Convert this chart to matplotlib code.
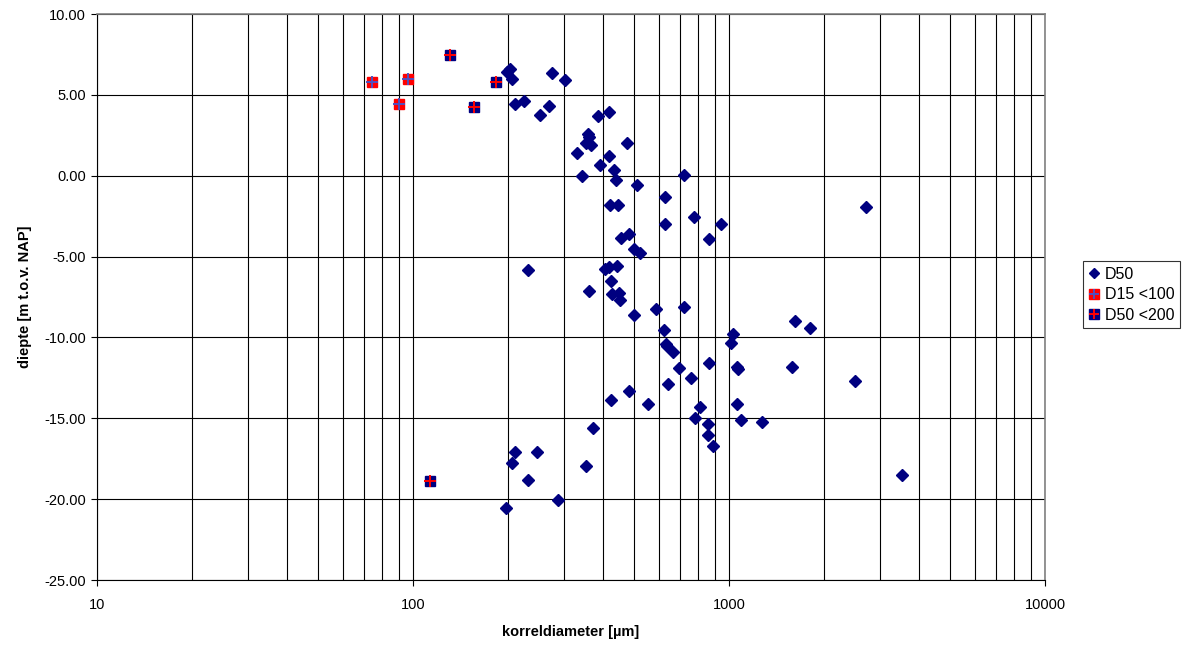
import matplotlib
matplotlib.use("Agg")
import matplotlib.pyplot as plt
from matplotlib.ticker import FixedLocator, FixedFormatter, LogLocator, NullFormatter
from matplotlib.legend_handler import HandlerTuple
from matplotlib.lines import Line2D

plt.rcParams['font.family'] = ['Liberation Sans', 'DejaVu Sans']

# D50 series (korreldiameter [µm], diepte [m t.o.v. NAP])
d50_x = [203, 199, 205, 275, 303, 211, 225, 270, 252, 384, 416, 357, 361, 353, 366,
         475, 331, 417, 390, 433, 343, 439, 510, 719, 420, 447, 626, 773, 626, 940,
         864, 456, 484, 500, 523, 232, 405, 417, 441, 424, 361, 425, 450, 453, 586,
         723, 501, 623, 1615, 1809, 1028, 1012, 630, 635, 666, 863, 1062, 1065, 1586,
         695, 756, 643, 2505, 481, 422, 554, 1058, 809, 783, 1088, 1270, 860, 370,
         861, 888, 3535, 211, 247, 205, 353, 232, 288, 197, 2708]
d50_y = [6.62, 6.44, 5.95, 6.34, 5.91, 4.42, 4.59, 4.30, 3.74, 3.72, 3.91, 2.60, 2.41,
         2.01, 1.93, 2.04, 1.43, 1.20, 0.68, 0.33, -0.04, -0.24, -0.55, 0.04, -1.83,
         -1.80, -1.34, -2.53, -3.01, -2.97, -3.91, -3.84, -3.59, -4.56, -4.81, -5.84,
         -5.76, -5.66, -5.60, -6.48, -7.12, -7.30, -7.27, -7.66, -8.27, -8.09, -8.62,
         -9.57, -8.97, -9.44, -9.81, -10.36, -10.38, -10.55, -10.93, -11.57, -11.83,
         -11.98, -11.85, -11.87, -12.52, -12.85, -12.68, -13.33, -13.85, -14.10, -14.09,
         -14.28, -14.98, -15.11, -15.20, -15.34, -15.58, -16.01, -16.73, -18.48, -17.09,
         -17.06, -17.76, -17.96, -18.81, -20.07, -20.56, -1.91]

# D15 <100 series
d15_x = [74.3, 90.1, 96.6]
d15_y = [5.77, 4.41, 5.95]

# D50 <200 series
d50s_x = [131.2, 156, 183.1, 113.2]
d50s_y = [7.46, 4.22, 5.77, -18.87]

y_ticks = [10, 5, 0, -5, -10, -15, -20, -25]
x_ticks = [10, 100, 1000, 10000]
x_tick_labels = ["10", "100", "1000", "10000"]

navy = "#000080"
red = "#FF0000"

fig = plt.figure(figsize=(11.86, 6.46), dpi=100)
ax = fig.add_axes([97/1186, 1-580/646, (1045-97)/1186, (580-14)/646])

ax.set_xscale('log')
ax.set_xlim(10, 10000)
ax.set_ylim(-25, 10)

ax.xaxis.set_major_locator(FixedLocator(x_ticks))
ax.xaxis.set_major_formatter(FixedFormatter(x_tick_labels))
ax.xaxis.set_minor_locator(LogLocator(base=10, subs=range(2, 10), numticks=20))
ax.xaxis.set_minor_formatter(NullFormatter())
ax.set_yticks(y_ticks)
ax.set_yticklabels([f"{v:.2f}" for v in y_ticks])

ax.grid(True, which='major', axis='both', color='black', linewidth=0.8)
ax.grid(True, which='minor', axis='x', color='black', linewidth=0.8)
ax.set_axisbelow(True)

ax.tick_params(axis='both', which='major', direction='out', length=4, width=0.8,
               labelsize=10.5, colors='black')
ax.tick_params(axis='x', which='minor', length=0)
ax.tick_params(axis='x', which='major', pad=9)
ax.tick_params(axis='y', pad=4)

for s in ['top', 'right']:
    ax.spines[s].set_color('#808080')
    ax.spines[s].set_linewidth(1.2)
for s in ['left', 'bottom']:
    ax.spines[s].set_color('black')
    ax.spines[s].set_linewidth(0.8)

ax.plot(d50_x, d50_y, linestyle='none', marker='D', markersize=5.7,
        markerfacecolor=navy, markeredgecolor=navy, zorder=3)

ax.plot(d15_x, d15_y, linestyle='none', marker='s', markersize=7.5,
        markerfacecolor=red, markeredgecolor=red, zorder=4)
ax.plot(d15_x, d15_y, linestyle='none', marker='+', markersize=8,
        markeredgewidth=1.4, markeredgecolor='#5050C0', zorder=5)

ax.plot(d50s_x, d50s_y, linestyle='none', marker='s', markersize=7.5,
        markerfacecolor=navy, markeredgecolor=navy, zorder=4)
ax.plot(d50s_x, d50s_y, linestyle='none', marker='+', markersize=8,
        markeredgewidth=1.4, markeredgecolor=red, zorder=5)

ax.set_xlabel("korreldiameter [µm]", fontsize=10.5, fontweight='bold', labelpad=9)
ax.set_ylabel("diepte [m t.o.v. NAP]", fontsize=10.5, fontweight='bold', labelpad=9)

h1 = Line2D([], [], linestyle='none', marker='D', markersize=5, markerfacecolor=navy, markeredgecolor=navy)
h2a = Line2D([], [], linestyle='none', marker='s', markersize=7, markerfacecolor=red, markeredgecolor=red)
h2b = Line2D([], [], linestyle='none', marker='+', markersize=7.5, markeredgewidth=1.4, markeredgecolor='#5050C0')
h3a = Line2D([], [], linestyle='none', marker='s', markersize=7, markerfacecolor=navy, markeredgecolor=navy)
h3b = Line2D([], [], linestyle='none', marker='+', markersize=7.5, markeredgewidth=1.4, markeredgecolor=red)

leg = fig.legend([h1, (h2a, h2b), (h3a, h3b)], ["D50", "D15 <100", "D50 <200"],
                 handler_map={tuple: HandlerTuple(ndivide=1, pad=0)},
                 loc='upper left', bbox_to_anchor=(1083/1186, 1-261/646),
                 fontsize=11.5, frameon=True, fancybox=False, shadow=False,
                 handlelength=0.7, handletextpad=0.3, borderpad=0.35,
                 labelspacing=0.35, borderaxespad=0)
leg.get_frame().set_edgecolor('black')
leg.get_frame().set_linewidth(0.8)

fig.savefig("out.png", dpi=100)
